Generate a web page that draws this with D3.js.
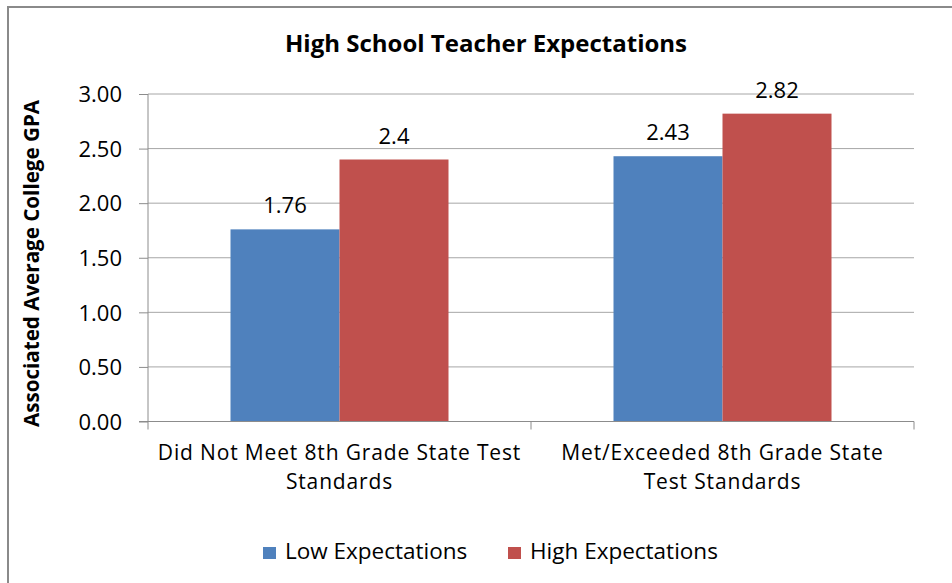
<!DOCTYPE html>
<html><head><meta charset="utf-8">
<script src="https://cdn.jsdelivr.net/npm/d3@7"></script>
<style>body{margin:0;background:#fff}svg{display:block}text{font-family:"Open Sans",sans-serif;fill:#000}</style>
</head><body>
<script>
const categories = ["Did Not Meet 8th Grade State Test|Standards", "Met/Exceeded 8th Grade State|Test Standards"];
const seriesNames = ["Low Expectations", "High Expectations"];
const lowValues = [1.76, 2.43];
const highValues = [2.4, 2.82];
const valueLabels = [["1.76", "2.43"], ["2.4", "2.82"]];
const yTicks = [0, 0.5, 1, 1.5, 2, 2.5, 3];
const colors = ["#4F81BD", "#C0504D"];

(function () {
const W = 952, H = 583;
const FONT = '"Open Sans", sans-serif';
const svg = d3.select("body").append("svg").attr("width", W).attr("height", H);
// outer frame
svg.append("line").attr("x1", 8).attr("x2", W).attr("y1", 7).attr("y2", 7).attr("stroke", "#8a8a8a").attr("stroke-width", 2);
svg.append("line").attr("x1", 8).attr("x2", 8).attr("y1", 6).attr("y2", H).attr("stroke", "#8a8a8a").attr("stroke-width", 2);

const mLeft = 148, mRight = 914, mTop = 94, mBottom = 421.5;
const x0 = d3.scaleBand().domain(categories).range([mLeft, mRight]).paddingInner(0).paddingOuter(0);
const y = d3.scaleLinear().domain([0, 3]).range([mBottom, mTop]);

// gridlines
svg.append("g").selectAll("line").data(yTicks.filter(d => d > 0)).join("line")
  .attr("x1", mLeft).attr("x2", mRight).attr("y1", d => y(d)).attr("y2", d => y(d))
  .attr("stroke", "#a6a6a6").attr("stroke-width", 1);

// y axis
const yAxis = d3.axisLeft(y).tickValues(yTicks).tickFormat(d3.format(".2f")).tickSize(9).tickPadding(17);
const gy = svg.append("g").attr("transform", `translate(${mLeft},0)`).call(yAxis);
gy.select(".domain").attr("stroke", "#8c8c8c").attr("d", `M0,${mTop}V${mBottom}`);
gy.selectAll(".tick line").attr("stroke", "#8c8c8c");
gy.selectAll(".tick text").attr("font-size", 22).attr("font-family", FONT).attr("fill", "#000").attr("dy", "0.35em");

// bars
const series = [lowValues, highValues];
const barW = 109;
const groups = svg.append("g").selectAll("g").data(categories).join("g")
  .attr("transform", d => `translate(${x0(d)},0)`);
groups.each(function (cat, ci) {
  const g = d3.select(this);
  const bw = x0.bandwidth();
  const start = (bw - 2 * barW) / 2;
  series.forEach((vals, si) => {
    g.append("rect").attr("x", start + si * barW).attr("width", barW)
      .attr("y", y(vals[ci])).attr("height", y(0) - y(vals[ci])).attr("fill", colors[si]);
    g.append("text").attr("x", start + si * barW + barW / 2).attr("y", y(vals[ci]) - 16)
      .attr("text-anchor", "middle").attr("font-size", 22).text(valueLabels[si][ci]);
  });
});

// x axis
const gx = svg.append("g").attr("transform", `translate(0,${mBottom})`);
gx.append("line").attr("x1", mLeft - 9).attr("x2", mRight).attr("y1", 0).attr("y2", 0).attr("stroke", "#8c8c8c");
const bounds = [mLeft, ...categories.map(c => x0(c) + x0.bandwidth())];
gx.selectAll(".tk").data(bounds).join("line").attr("class", "tk")
  .attr("x1", d => d).attr("x2", d => d).attr("y1", 0).attr("y2", 8).attr("stroke", "#8c8c8c");
categories.forEach(c => {
  const lines = c.split("|");
  lines.forEach((l, i) => gx.append("text").attr("text-anchor", "middle").attr("font-size", 21)
    .attr("letter-spacing", 0.85)
    .attr("x", x0(c) + x0.bandwidth() / 2).attr("y", 38.5 + i * 29).text(l));
});

// y label
svg.append("text").attr("transform", `translate(39,263.5) rotate(-90)`).attr("text-anchor", "middle")
  .attr("font-size", 20.6).attr("font-weight", "bold").text("Associated Average College GPA");

// title
svg.append("text").attr("x", 486).attr("y", 52).attr("text-anchor", "middle")
  .attr("font-size", 24).attr("font-weight", "bold").text("High School Teacher Expectations");

// legend
const legX = [263, 508];
seriesNames.forEach((n, i) => {
  svg.append("rect").attr("x", legX[i]).attr("y", 547).attr("width", 13).attr("height", 12).attr("fill", colors[i]);
  svg.append("text").attr("x", legX[i] + 22).attr("y", 559).attr("font-size", 22.5).text(n);
});
})();
</script>
</body></html>
